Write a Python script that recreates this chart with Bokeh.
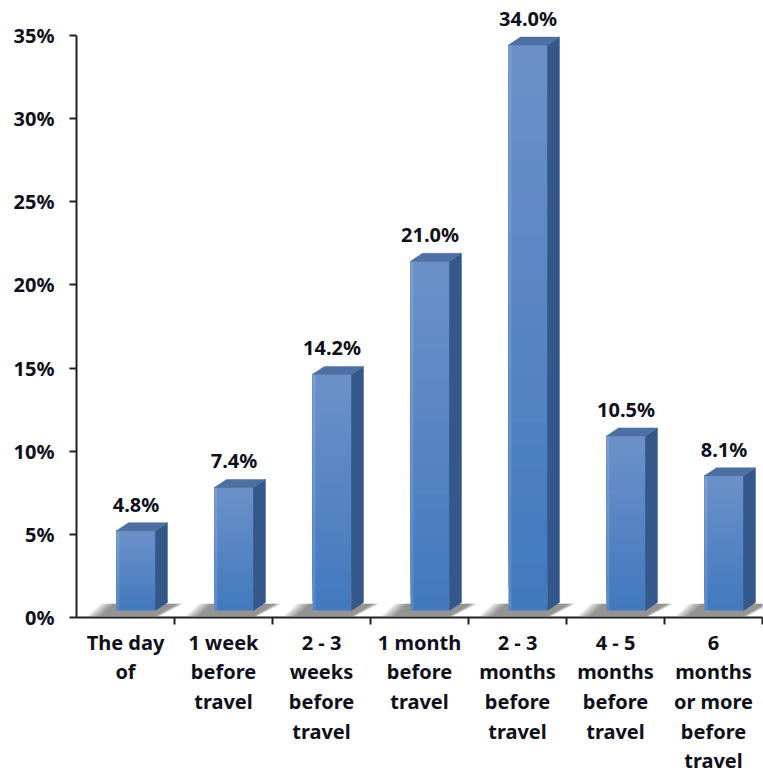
from bokeh.plotting import figure
from bokeh.models import Range1d, FixedTicker
from bokeh.core.properties import value
from bokeh.embed import file_html
from bokeh.resources import INLINE

# ---- data ----
categories = ["The day\nof", "1 week\nbefore\ntravel", "2 - 3\nweeks\nbefore\ntravel",
              "1 month\nbefore\ntravel", "2 - 3\nmonths\nbefore\ntravel",
              "4 - 5\nmonths\nbefore\ntravel", "6\nmonths\nor more\nbefore\ntravel"]
values = [4.8, 7.4, 14.2, 21.0, 34.0, 10.5, 8.1]
value_labels = ["4.8%", "7.4%", "14.2%", "21.0%", "34.0%", "10.5%", "8.1%"]
y_ticks = [0, 5, 10, 15, 20, 25, 30, 35]
y_tick_labels = ["0%", "5%", "10%", "15%", "20%", "25%", "30%", "35%"]

FONT = "Noto Sans"
TXT = "#10101c"

# pseudo-3D geometry (data units)
front_off = 0.408 - 0.5
front_w = 0.398
dx = 0.122
dy = 0.48
floor = 0.42

p = figure(width=763, height=778, x_range=Range1d(-0.5, 6.5), y_range=Range1d(0, 37.1),
           output_backend="svg", toolbar_location=None,
           min_border_left=76, min_border_right=1, min_border_top=0, min_border_bottom=161)
p.background_fill_color = "white"
p.border_fill_color = "white"
p.outline_line_color = None
p.xgrid.visible = False
p.ygrid.visible = False


def mix(c1, c2, t):
    a = [int(c1[i:i + 2], 16) for i in (1, 3, 5)]
    b = [int(c2[i:i + 2], 16) for i in (1, 3, 5)]
    return "#%02x%02x%02x" % tuple(round(a[k] + (b[k] - a[k]) * t) for k in range(3))


n_bands = 24
for i, v in enumerate(values):
    L = i + front_off
    R = L + front_w
    # soft floor shadow
    for k in range(6):
        e = (5 - k) * 0.025
        ys = [0.08, 0.08, floor + dy * 0.85, floor + dy * 0.85]
        xs = [L - 0.17 - e, R + e * 0.3, R + dx + 0.1 + e * 0.5, L - 0.03 - e]
        p.patch(xs, ys, fill_color="#303030", fill_alpha=0.11, line_color=None)
    # front face gradient (stacked, overlapping bands -> no seams)
    lefts, rights, bottoms, tops, cols = [], [], [], [], []
    for b in range(n_bands):
        t0 = b / n_bands
        lefts.append(L)
        rights.append(R)
        bottoms.append(floor + v * t0)
        tops.append(floor + v)
        cols.append(mix("#4279bf", "#6c91c8", t0 + 0.5 / n_bands))
    p.quad(left=lefts, right=rights, bottom=bottoms, top=tops, fill_color=cols, line_color=None)
    # light left edge strip
    p.quad(left=[L], right=[L + 0.03], bottom=[floor], top=[floor + v],
           fill_color="#ffffff", fill_alpha=0.12, line_color=None)
    # side face
    p.patch([R, R, R + dx, R + dx], [floor, floor + v, floor + v + dy, floor + dy],
            fill_color="#34588a", line_color="#34588a", line_width=0.5)
    # top face
    p.patch([L, L + dx, R + dx, R], [floor + v, floor + v + dy, floor + v + dy, floor + v],
            fill_color="#4e6fa1", line_color="#4e6fa1", line_width=0.5)

# value labels
lx = [i + front_off + front_w / 2 for i in range(len(values))]
ly = [v + floor + dy for v in values]
p.text(x=lx, y=ly, text=value_labels, text_align="center", text_baseline="bottom",
       y_offset=-5, text_font=value(FONT), text_font_style="bold",
       text_font_size="20px", text_color=TXT)

# y axis
ya = p.yaxis[0]
ya.ticker = FixedTicker(ticks=y_ticks)
ya.major_label_overrides = {t: l for t, l in zip(y_ticks, y_tick_labels)}
ya.bounds = (0, 35)
ya.axis_line_color = "#202020"
ya.axis_line_width = 2
ya.major_tick_line_color = "#202020"
ya.major_tick_line_width = 2
ya.major_tick_out = 7
ya.major_tick_in = 0
ya.minor_tick_line_color = None
ya.major_label_standoff = 15
ya.major_label_text_font = FONT
ya.major_label_text_font_style = "bold"
ya.major_label_text_font_size = "20px"
ya.major_label_text_color = TXT

# x axis
xa = p.xaxis[0]
centers = list(range(len(categories)))
xa.ticker = FixedTicker(ticks=centers, minor_ticks=[c + 0.5 for c in centers])
xa.major_label_overrides = {c: lab for c, lab in zip(centers, categories)}
xa.axis_line_color = "#202020"
xa.axis_line_width = 2
xa.major_tick_out = 0
xa.major_tick_in = 0
xa.major_tick_line_color = None
xa.minor_tick_line_color = "#202020"
xa.minor_tick_line_width = 2
xa.minor_tick_out = 7
xa.minor_tick_in = 0
xa.major_label_standoff = 4
xa.major_label_text_font = FONT
xa.major_label_text_font_style = "bold"
xa.major_label_text_font_size = "20px"
xa.major_label_text_line_height = 1.1
xa.major_label_text_color = TXT
xa.major_label_text_align = "center"

open("out.html", "w").write(file_html(p, INLINE))
